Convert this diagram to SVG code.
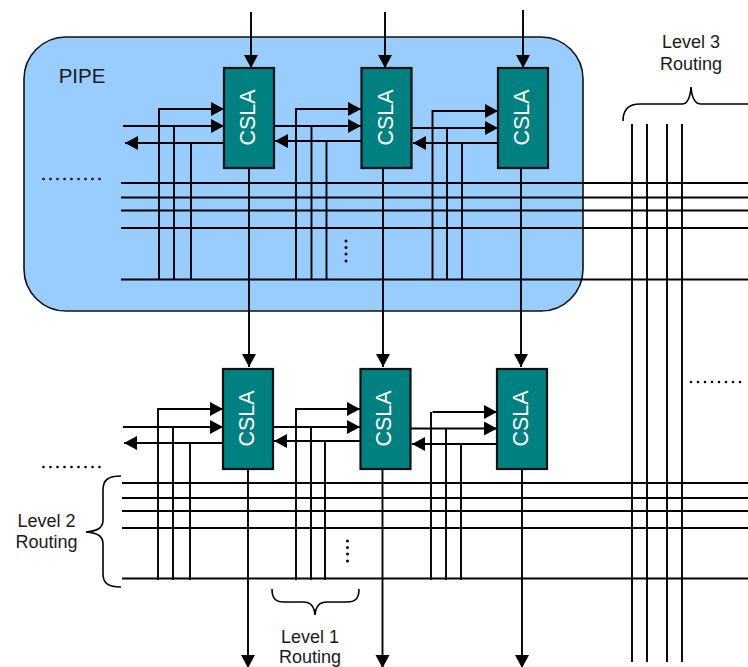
<svg xmlns="http://www.w3.org/2000/svg" width="748" height="667" viewBox="0 0 748 667">
<style>
.w{stroke:#000;stroke-width:1.9;fill:none}
.a{stroke:#000;stroke-width:1.9;fill:none;marker-end:url(#ah)}
.br{stroke:#000;stroke-width:1.6;fill:none}
.box{fill:#008080;stroke:#111;stroke-width:2.2}
.t{font-family:"Liberation Sans",Arial,sans-serif;font-size:18px;fill:#1a1a1a;text-anchor:middle}
.c{font-family:"Liberation Sans",Arial,sans-serif;font-size:21.500px;fill:#fff;text-anchor:middle}
.d{fill:#000}
</style>
<defs>
<marker id="ah" markerUnits="userSpaceOnUse" markerWidth="14" markerHeight="15" refX="13" refY="7.500" orient="auto"><path d="M0,0.500L13,7.500L0,14.500Z" fill="#000"/></marker>
<g id="dr"><circle cx="0" cy="0" r="1.300"/><circle cx="7" cy="0" r="1.300"/><circle cx="14" cy="0" r="1.300"/><circle cx="21" cy="0" r="1.300"/><circle cx="28" cy="0" r="1.300"/><circle cx="35" cy="0" r="1.300"/><circle cx="42" cy="0" r="1.300"/><circle cx="49" cy="0" r="1.300"/></g>
<g id="dh"><use href="#dr"/><circle cx="56" cy="0" r="1.300"/></g>
<g id="dv"><circle cx="0" cy="0" r="1.500"/><circle cx="0" cy="6.500" r="1.500"/><circle cx="0" cy="13" r="1.500"/><circle cx="0" cy="20" r="1.500"/></g>
</defs>
<rect id="pipe" x="24" y="37" width="559" height="274" rx="42" ry="42" fill="#99ccff" stroke="#111" stroke-width="1.6"/>
<text class="t" x="82" y="83" style="font-size:20.500px">PIPE</text>
<g id="connectors">
<path class="a" d="M251,12V68"/><path class="a" d="M385,12V68"/><path class="a" d="M523,10V68"/>
<path class="a" d="M249,168V367"/><path class="a" d="M383,168V367"/><path class="a" d="M521,168V367"/>
<path class="a" d="M248,469V668"/><path class="a" d="M382.500,469V668"/><path class="a" d="M522,469V668"/>
<path class="w" d="M121,183H748M121,197.500H748M121,210.500H748M121,228H748M121,279.500H748"/>
<path class="w" d="M122,483H748M122,498H748M122,511H748M122,528H748M122,578.500H748"/>
<path class="w" d="M632,124V662M647,124V662M667,124V662M682,124V662"/>
<path class="a" d="M159,280V109H224"/><path class="a" d="M123,126H224"/><path class="w" d="M174,126V280M191,143V280"/><path class="a" d="M224,143H125"/>
<path class="a" d="M296,280V109H361"/><path class="a" d="M274,126H361"/><path class="w" d="M311.500,126V280M326.500,141V280"/><path class="a" d="M361,141H275"/>
<path class="a" d="M432.500,280V111H498"/><path class="a" d="M412,128H498"/><path class="w" d="M447,128V280M462,143V280"/><path class="a" d="M498,143H413"/>
<path class="a" d="M158,580V409H223"/><path class="a" d="M123,427H223"/><path class="w" d="M173,427V580M190,443V580"/><path class="a" d="M223,443H124"/>
<path class="a" d="M296,580V409H360"/><path class="a" d="M273,427H360"/><path class="w" d="M311,427V580M325,441V580"/><path class="a" d="M360,441H274"/>
<path class="w" d="M431,580V412"/><path class="a" d="M432.500,412H497"/><path class="a" d="M411,428.500H497"/><path class="w" d="M446,428.500V580M461,444V580"/><path class="a" d="M497,444H412"/>
</g>
<g id="csla-t1"><rect class="box" x="224" y="68" width="50" height="100"/><text class="c" transform="translate(255,117.500) rotate(-90)">CSLA</text></g>
<g id="csla-t2"><rect class="box" x="361.500" y="68" width="50" height="100"/><text class="c" transform="translate(393,117.500) rotate(-90)">CSLA</text></g>
<g id="csla-t3"><rect class="box" x="498" y="68" width="50" height="100"/><text class="c" transform="translate(529,117.500) rotate(-90)">CSLA</text></g>
<g id="csla-b1"><rect class="box" x="223" y="369" width="50" height="100"/><text class="c" transform="translate(254,418.500) rotate(-90)">CSLA</text></g>
<g id="csla-b2"><rect class="box" x="360.500" y="369" width="50" height="100"/><text class="c" transform="translate(391,418.500) rotate(-90)">CSLA</text></g>
<g id="csla-b3"><rect class="box" x="497" y="369" width="50" height="100"/><text class="c" transform="translate(528,418.500) rotate(-90)">CSLA</text></g>
<g id="dots" class="d">
<use href="#dh" x="43.500" y="179"/><use href="#dh" x="43.500" y="467"/><use href="#dr" x="691" y="382"/>
<use href="#dv" x="346" y="241"/><use href="#dv" x="347.500" y="541"/>
</g>
<g id="level2"><path class="br" d="M121,476C108,476 103,480 103,490V520C103,527 99,531 86,532C99,533 103,537 103,544V574C103,583 108,587 121,587"/>
<text class="t" x="46.500" y="527">Level 2</text><text class="t" x="46.500" y="548">Routing</text></g>
<g id="level1"><path class="br" d="M272,589C272,599 276,602 284,602H303C310,602 314,605 315,615C316,605 320,602 327,602H347C355,602 359,599 359,589"/>
<text class="t" x="310" y="643">Level 1</text><text class="t" x="310" y="662.500">Routing</text></g>
<g id="level3"><path class="br" d="M623,121C623,110 628,104 640,104H682C687,104 690,100 691,87C692,100 696,104 701,104H748"/>
<text class="t" x="691" y="48">Level 3</text><text class="t" x="691" y="70">Routing</text></g>
</svg>
